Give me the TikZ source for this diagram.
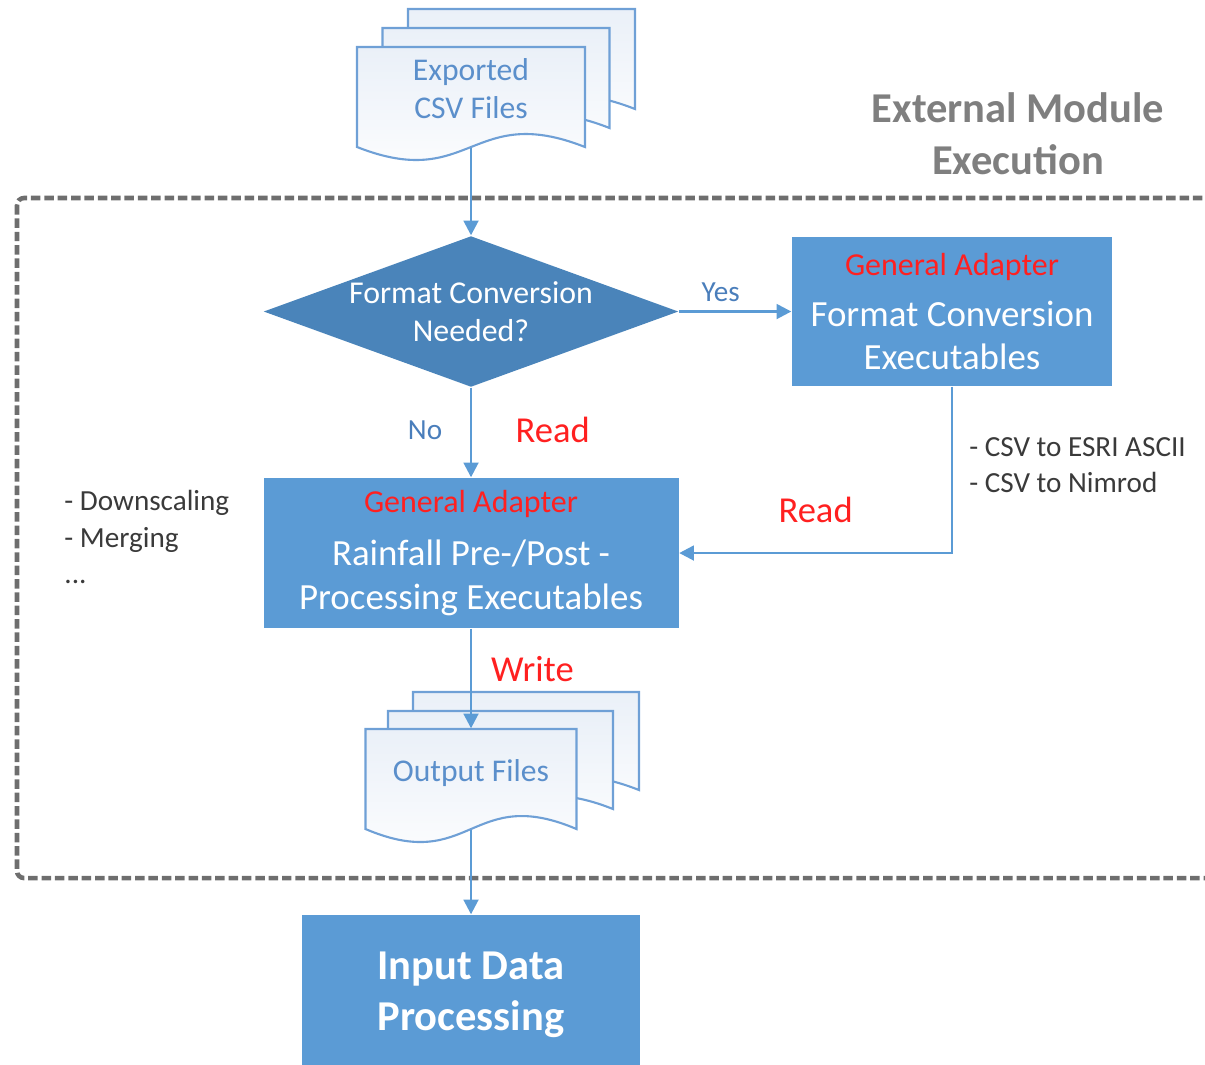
\documentclass[tikz,border=0pt]{standalone}
\usepackage{fontspec}
\setmainfont{Carlito}
\usetikzlibrary{shapes.geometric,arrows.meta,positioning}
\definecolor{boxblue}{HTML}{5B9BD5}
\definecolor{diamblue}{HTML}{4A84BA}
\definecolor{linkblue}{HTML}{5B9BD5}
\definecolor{docline}{HTML}{6FA0D6}
\definecolor{doctext}{HTML}{5B8FCB}
\definecolor{pagetint}{HTML}{EAF0F8}
\definecolor{labelblue}{HTML}{4A7EBB}
\definecolor{gared}{HTML}{FF2020}
\definecolor{dashgray}{HTML}{6E6E6E}
\definecolor{headgray}{HTML}{7F7F7F}
\definecolor{notegray}{HTML}{3A3A3A}

% red title line inside an adapter box
\newcommand{\gatitle}[1]{{\color{gared}\fontsize{9.1}{11}\selectfont #1}}
% one sheet with a wavy lower edge: top left (#1,#2), width #3, height #4
\newcommand{\wavepage}[4]{%
  \draw[page] (#1,#2) -- ({#1+#3},#2) -- ({#1+#3},{#2-#4})
    .. controls ({#1+0.5*#3},{#2-#4+0.45}) and ({#1+0.5*#3},{#2-#4-0.45}) .. (#1,{#2-#4}) -- cycle;}

\begin{document}
\begin{tikzpicture}[
  page/.style={draw=docline,line width=0.6pt,top color=pagetint,bottom color=white},
  docnode/.style={rectangle,inner sep=0pt,minimum height=1cm},
  doclabel/.style={text=doctext,font=\fontsize{9}{10.8}\selectfont,align=center},
  decision/.style={diamond,fill=diamblue,minimum width=4.15cm,minimum height=1.51cm,inner sep=0pt},
  adapter/.style={rectangle,fill=boxblue,text=white,align=center,
                  font=\fontsize{10.5}{12.5}\selectfont},
  flow/.style={-{Triangle[length=4.2pt,width=4.2pt]},draw=linkblue,line width=0.75pt},
  yesno/.style={text=labelblue,font=\fontsize{8.3}{10}\selectfont},
  rw/.style={text=gared,font=\fontsize{10.4}{12}\selectfont},
  note/.style={text=notegray,font=\fontsize{8.3}{10.4}\selectfont,align=left},
  module/.style={draw=dashgray,line width=1.3pt,dash pattern=on 2.7pt off 1.1pt,rounded corners=2pt}
]
\useasboundingbox (0,0) rectangle (12.05,-10.64);

%--- module boundary ---
\draw[module] (0.17,-1.98) rectangle (12.4,-8.78);
\node[font=\fontsize{12.1}{14.8}\selectfont\bfseries,text=headgray,align=center] (modname)
  at (10.18,-1.34) {External Module\\Execution};

% ---- exported csv files ----
\wavepage{4.08}{-0.09}{2.27}{1.0}
\wavepage{3.825}{-0.28}{2.27}{1.0}
\wavepage{3.57}{-0.47}{2.28}{1.0}
\node[docnode,minimum width=2.28cm,
      label={[doclabel,yshift=0.08cm]center:Exported\\CSV Files}] (csv) at (4.71,-0.97) {};

% ---- decision + adapters ----
\node[decision,label={[text=white,font=\fontsize{9.05}{10.8}\selectfont,align=center]center:Format Conversion\\Needed?}]
  (need) at (4.71,-3.115) {};
\node[adapter,minimum width=3.2cm,minimum height=1.49cm] (conv) at (9.52,-3.115)
  {\gatitle{General Adapter}\\[2pt]Format Conversion\\Executables};
\node[adapter,minimum width=4.15cm,minimum height=1.5cm] (rain) at (4.71,-5.53)
  {\gatitle{General Adapter}\\[2.5pt]Rainfall Pre-/Post -\\Processing Executables};

\node[note,anchor=west] (steps) at (0.52,-5.37) {- Downscaling\\- Merging\\...};

% ---- output files ----
\wavepage{4.13}{-6.92}{2.26}{0.98}
\wavepage{3.88}{-7.11}{2.25}{0.98}
\wavepage{3.655}{-7.29}{2.11}{1.0}
\node[docnode,minimum width=2.11cm,
      label={[doclabel,yshift=0.06cm]center:Output Files}] (out) at (4.71,-7.79) {};

% ---- next stage ----
\node[adapter,font=\fontsize{12.1}{14.5}\selectfont\bfseries,minimum width=3.38cm,minimum height=1.6cm]
  (idp) at (4.71,-9.95) {Input Data\\Processing};

% ---- connections ----
\draw[flow] (csv.south) -- (need.north);
\draw[flow] (need.east) -- node[yesno,above,inner sep=2.5pt,pos=0.37] (yes) {Yes} (conv.west);
\draw[flow] (conv.south) |- node[note,right=1.2pt,pos=0.236] (fmts) {- CSV to ESRI ASCII\\- CSV to Nimrod}
  node[rw,above=4.9pt,pos=0.75] (read2) {Read} (rain.east);
\draw[flow] (need.south) -- node[yesno,left=4.5pt,pos=0.47] (no) {No}
  node[rw,right=9pt,pos=0.47] (read1) {Read} (rain.north);
\draw[flow] (rain.south) -- node[rw,right=2pt,pos=0.4] (write) {Write} (out.north);
\draw[flow] (out.south) -- (idp.north);

\end{tikzpicture}
\end{document}
